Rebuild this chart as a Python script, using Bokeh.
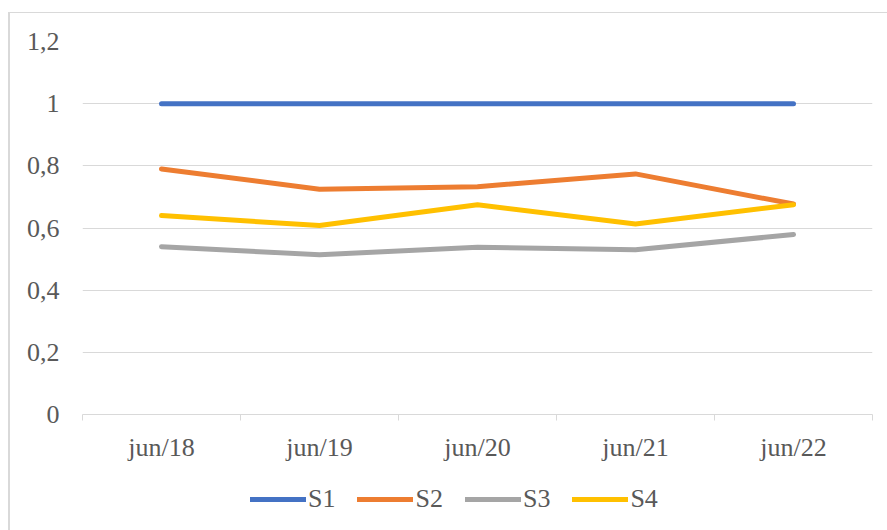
from bokeh.plotting import figure
from bokeh.layouts import column
from bokeh.models import FixedTicker, Legend, LegendItem
from bokeh.embed import file_html
from bokeh.resources import INLINE

categories = ["jun/18", "jun/19", "jun/20", "jun/21", "jun/22"]
s1 = [1.0, 1.0, 1.0, 1.0, 1.0]
s2 = [0.790, 0.725, 0.733, 0.774, 0.677]
s3 = [0.540, 0.514, 0.538, 0.530, 0.579]
s4 = [0.640, 0.608, 0.675, 0.613, 0.675]
series_names = ["S1", "S2", "S3", "S4"]
series_colors = ["#4472C4", "#ED7D31", "#A5A5A5", "#FFC000"]
y_ticks = [0, 0.2, 0.4, 0.6, 0.8, 1.0, 1.2]
y_tick_labels = ["0", "0,2", "0,4", "0,6", "0,8", "1", "1,2"]

FONT = "Liberation Serif"
FS = "26px"
TXT = "#595959"
GRID = "#d9d9d9"
LW = 5

xs = [i + 0.5 for i in range(len(categories))]
series = [s1, s2, s3, s4]

p = figure(width=877, height=457, output_backend="svg", toolbar_location=None,
           x_range=(0, len(categories)), y_range=(0, 1.2),
           min_border_left=72, min_border_right=15, min_border_top=28, min_border_bottom=56)
p.outline_line_color = None
p.background_fill_color = "white"
p.border_fill_color = "white"

for name, vals, col in zip(series_names, series, series_colors):
    p.line(xs, vals, line_color=col, line_width=LW, line_cap="round", line_join="round")

# x axis
p.xaxis.ticker = FixedTicker(ticks=xs, minor_ticks=list(range(len(categories) + 1)))
p.xaxis.major_label_overrides = {x: c for x, c in zip(xs, categories)}
p.xaxis.axis_line_color = GRID
p.xaxis.major_tick_line_color = None
p.xaxis.major_tick_out = 0
p.xaxis.minor_tick_line_color = GRID
p.xaxis.minor_tick_out = 6
p.xaxis.minor_tick_in = 0
p.xaxis.major_label_standoff = 12
p.xaxis.major_label_text_font = FONT
p.xaxis.major_label_text_font_size = FS
p.xaxis.major_label_text_color = TXT
p.xgrid.grid_line_color = None

# y axis
p.yaxis.ticker = FixedTicker(ticks=y_ticks, minor_ticks=[])
p.yaxis.major_label_overrides = {t: l for t, l in zip(y_ticks, y_tick_labels)}
p.yaxis.axis_line_color = None
p.yaxis.major_tick_line_color = None
p.yaxis.major_tick_out = 0
p.yaxis.minor_tick_line_color = None
p.yaxis.major_label_standoff = 23
p.yaxis.major_label_text_font = FONT
p.yaxis.major_label_text_font_size = FS
p.yaxis.major_label_text_color = TXT
p.ygrid.ticker = FixedTicker(ticks=y_ticks)
p.ygrid.grid_line_color = GRID
p.ygrid.grid_line_width = 1

# legend strip (separate figure so the legend is not clipped); its series lie outside its view
lg = figure(width=877, height=60, output_backend="svg", toolbar_location=None,
            x_axis_type=None, y_axis_type=None, x_range=(100, 101), y_range=(100, 101),
            min_border_left=0, min_border_right=0, min_border_top=0, min_border_bottom=0)
lg.outline_line_color = None
lg.grid.grid_line_color = None
lg.border_fill_color = "white"
lg.background_fill_color = "white"
proxies = [lg.line(xs, vals, line_color=c, line_width=LW, line_cap="round")
           for vals, c in zip(series, series_colors)]
legend = Legend(items=[LegendItem(label=n, renderers=[r]) for n, r in zip(series_names, proxies)],
                orientation="horizontal", location=(168, 16),
                glyph_width=56, glyph_height=28, label_height=28, label_standoff=2, spacing=22,
                label_text_font=FONT, label_text_font_size=FS, label_text_color=TXT,
                border_line_color=None, background_fill_color=None, padding=0, margin=0)
lg.add_layout(legend, "center")

layout = column(p, lg, spacing=0,
                styles={"border-left": "2px solid #d9d9d9", "border-top": "1px solid #d9d9d9",
                        "margin-top": "12px", "margin-left": "8px"})

open("out.html", "w").write(file_html(layout, INLINE))
